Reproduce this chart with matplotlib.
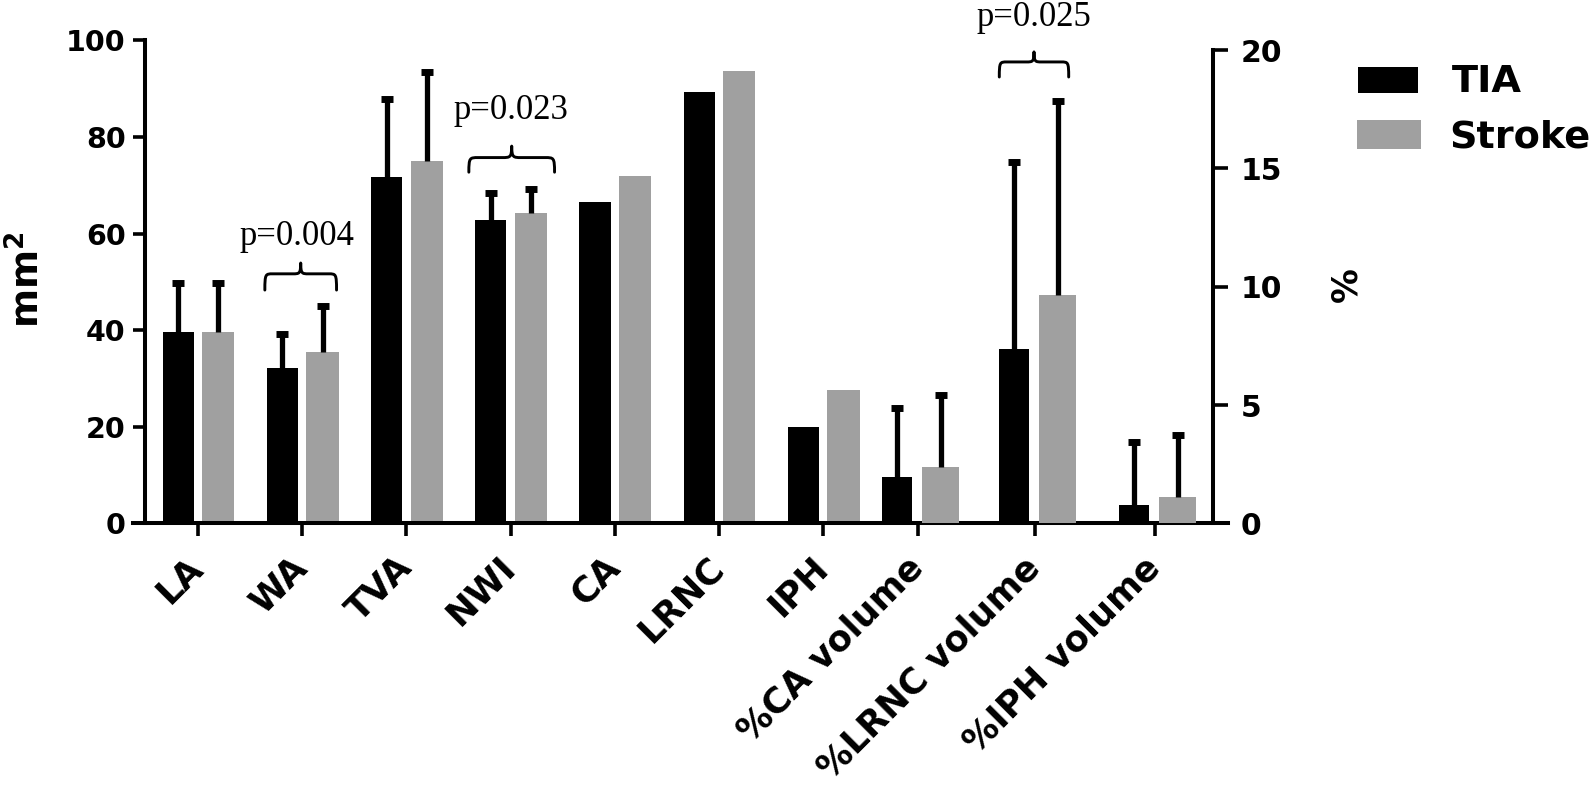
import matplotlib
matplotlib.use('Agg')
import matplotlib.pyplot as plt
import numpy as np
from matplotlib.path import Path
from matplotlib.patches import PathPatch, Rectangle

# ---------------- data ----------------
area_categories = ['LA', 'WA', 'TVA', 'NWI', 'CA', 'LRNC', 'IPH']
pct_categories = ['%CA volume', '%LRNC volume', '%IPH volume']
series_names = ['TIA', 'Stroke']

tia_area = [39.6, 32.2, 71.8, 62.7, 66.6, 89.4, 20.0]
stroke_area = [39.6, 35.5, 75.0, 64.3, 72.0, 93.7, 27.6]
tia_area_err = [10.2, 7.1, 16.1, 5.6, None, None, None]
stroke_area_err = [10.2, 9.4, 18.4, 5.0, None, None, None]

tia_pct = [1.96, 7.37, 0.77]
stroke_pct = [2.40, 9.67, 1.12]
tia_pct_err = [2.9, 7.9, 2.67]
stroke_pct_err = [3.04, 8.17, 2.61]

left_ticks = [0, 20, 40, 60, 80, 100]
right_ticks = [0, 5, 10, 15, 20]

p_labels = ['p=0.004', 'p=0.023', 'p=0.025']

# ---------------- layout ----------------
W, H = 1594, 790
PX = 104.2                      # pixels per category step
X0 = 198                        # pixel x of first category
pos_area = np.arange(len(area_categories), dtype=float)
pos_pct = (np.array([918, 1035, 1155]) - X0) / PX

plt.rcParams['font.family'] = ['DejaVu Sans']
plt.rcParams['font.weight'] = 'bold'
plt.rcParams['mathtext.fontset'] = 'dejavusans'

BLACK = '#000000'
GRAY = '#a0a0a0'

fig = plt.figure(figsize=(W / 100, H / 100), dpi=100)
ax_left_px, ax_right_px = 133, 1228
ax_top_px, ax_bot_px = 40.3, 523.4
ax = fig.add_axes([ax_left_px / W, (H - ax_bot_px) / H,
                   (ax_right_px - ax_left_px) / W, (ax_bot_px - ax_top_px) / H])
ax.set_xlim((ax_left_px - X0) / PX, (ax_right_px - X0) / PX)
ax.set_ylim(0, 100)
ax2 = ax.twinx()
ax2.set_ylim(0, 20.41)

# bars - area group (left axis)
ax.bar(pos_area - 0.19, tia_area, width=0.30, color=BLACK, linewidth=0, label=series_names[0])
ax.bar(pos_area + 0.195, stroke_area, width=0.31, color=GRAY, linewidth=0, label=series_names[1])

# bars - percent group (right axis)
ax2.bar(pos_pct - 0.205, tia_pct, width=0.29, color=BLACK, linewidth=0)
ax2.bar(pos_pct + 0.22, stroke_pct, width=0.355, color=GRAY, linewidth=0)

err_kw = dict(fmt='none', ecolor='black', elinewidth=3.8, capsize=4.3, capthick=5.0)


def draw_err(axis, xs, ys, errs):
    idx = [i for i, e in enumerate(errs) if e is not None]
    if not idx:
        return
    x = np.array([xs[i] for i in idx])
    y = np.array([ys[i] for i in idx])
    e = np.array([errs[i] for i in idx])
    cont = axis.errorbar(x, y, yerr=[np.zeros_like(e), e], **err_kw)
    # upper error only: hide the caps sitting on the bar tops
    for cl in cont.lines[1]:
        if np.allclose(np.asarray(cl.get_ydata(), dtype=float), y):
            cl.set_visible(False)


draw_err(ax, pos_area - 0.19, tia_area, tia_area_err)
draw_err(ax, pos_area + 0.195, stroke_area, stroke_area_err)
draw_err(ax2, pos_pct - 0.205, tia_pct, tia_pct_err)
draw_err(ax2, pos_pct + 0.22, stroke_pct, stroke_pct_err)

# spines
spine_lw = 2.9
for s in ['top', 'right']:
    ax.spines[s].set_visible(False)
ax.spines['left'].set_position(('data', (145 - X0) / PX))
ax.spines['left'].set_bounds(0, 100)
ax.spines['left'].set_linewidth(spine_lw)
ax.spines['bottom'].set_linewidth(spine_lw)
for s in ['top', 'left', 'bottom']:
    ax2.spines[s].set_visible(False)
ax2.spines['right'].set_position(('data', (1213 - X0) / PX))
ax2.spines['right'].set_bounds(0, 20)
ax2.spines['right'].set_linewidth(spine_lw)

ax.set_yticks(left_ticks)
ax.tick_params(axis='y', direction='out', length=9, width=2.6, labelsize=20.5, pad=5)
ax2.set_yticks(right_ticks)
ax2.tick_params(axis='y', direction='out', length=10.5, width=2.6, labelsize=21.5, pad=9.5)

all_pos = list(pos_area) + list(pos_pct)
all_labels = area_categories + pct_categories
ax.set_xticks(all_pos)
ax.set_xticklabels(all_labels, rotation=45, ha='right', va='center',
                   rotation_mode='anchor', fontsize=25.5, fontweight='bold')
ax.tick_params(axis='x', direction='out', length=9, width=2.6, pad=19)

# axis labels
ax.set_ylabel(r'$\mathbf{mm^2}$', fontsize=27)
ax.yaxis.set_label_coords((28 - ax_left_px) / (ax_right_px - ax_left_px), 0.505)
ax.yaxis.label.set_va('center')
ax2.set_ylabel('%', fontsize=25, fontweight='bold', rotation=90)
ax2.yaxis.set_label_coords((1346 - ax_left_px) / (ax_right_px - ax_left_px), 0.494)
ax2.yaxis.label.set_va('center')


# braces with p-values
def brace(axis, xc, y_end, width, height, frac):
    x0, x1 = xc - width / 2, xc + width / 2
    yh = y_end + frac * height
    yt = y_end + height
    w = width
    verts = [
        (x0, y_end),
        (x0, yh), (x0 + 0.01 * w, yh), (x0 + 0.11 * w, yh),
        (xc - 0.11 * w, yh),
        (xc - 0.02 * w, yh), (xc, yh), (xc, yt),
        (xc, yh), (xc + 0.02 * w, yh), (xc + 0.11 * w, yh),
        (x1 - 0.11 * w, yh),
        (x1 - 0.01 * w, yh), (x1, yh), (x1, y_end),
    ]
    codes = [Path.MOVETO,
             Path.CURVE4, Path.CURVE4, Path.CURVE4,
             Path.LINETO,
             Path.CURVE4, Path.CURVE4, Path.CURVE4,
             Path.CURVE4, Path.CURVE4, Path.CURVE4,
             Path.LINETO,
             Path.CURVE4, Path.CURVE4, Path.CURVE4]
    axis.add_patch(PathPatch(Path(verts, codes), facecolor='none', edgecolor='black',
                             linewidth=2.1, clip_on=False, capstyle='round', joinstyle='round'))


brace_layout = [  # (center px, ends y, width px, height, horiz frac, text x px, text baseline)
    (300.7, 48.3, 71.7, 5.6, 0.6, 297.0, 57.6),
    (511.7, 72.7, 85.7, 5.4, 0.56, 511.3, 83.7),
    (1034.0, 92.4, 69.4, 5.2, 0.6, 1034.0, 103.0),
]
for lab, (bx, by, bw, bh, bf, tx, ty) in zip(p_labels, brace_layout):
    brace(ax, (bx - X0) / PX, by, bw / PX, bh, bf)
    ax.text((tx - X0) / PX, ty, lab, ha='center', va='baseline', fontsize=25,
            fontweight='normal', family=['Liberation Serif', 'DejaVu Serif'], clip_on=False)

# legend (drawn manually)
fig.patches.append(Rectangle((1358 / W, 1 - 93 / H), 60 / W, 26 / H,
                             transform=fig.transFigure, facecolor=BLACK, edgecolor='none'))
fig.patches.append(Rectangle((1357 / W, 1 - 149 / H), 64 / W, 29 / H,
                             transform=fig.transFigure, facecolor=GRAY, edgecolor='none'))
fig.text(1452 / W, 1 - 92.5 / H, series_names[0], ha='left', va='baseline',
         fontsize=27.5, fontweight='bold')
fig.text(1449 / W, 1 - 147.5 / H, series_names[1], ha='left', va='baseline',
         fontsize=27.5, fontweight='bold')

fig.savefig('out.png', dpi=100, facecolor='white')
